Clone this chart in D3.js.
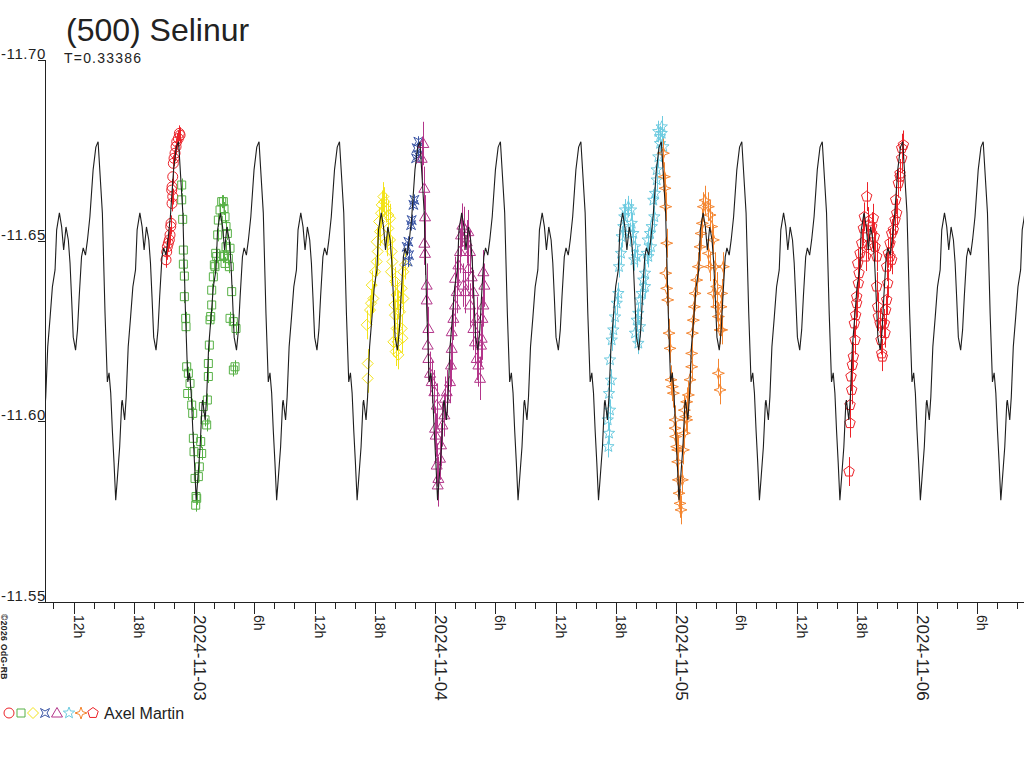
<!DOCTYPE html>
<html><head><meta charset="utf-8">
<script src="https://cdn.jsdelivr.net/npm/d3@7"></script>
<style>
html,body{margin:0;padding:0;background:#fff;overflow:hidden}
text{font-family:"Liberation Sans",Arial,Helvetica,sans-serif;fill:#222}
</style></head><body>
<svg id="chart" width="1024" height="768"></svg>
<script>
// ---------- text ----------
const titleText = "(500) Selinur";
const periodText = "T=0.33386";
const observerName = "Axel Martin";
const copyrightText = "\u00a92026 OdG-RB";

// ---------- axes data ----------
const baseDateUTC = Date.UTC(2024, 10, 3, 0, 0, 0); // 2024-11-03 00:00 UT
const xDomainHours = [-14.84, 82.65];               // hours relative to base date
const yDomain = [-11.70, -11.55];
const yTickValues = [-11.70, -11.65, -11.60, -11.55];

// ---------- model light curve (one period, phase 0 = maximum) ----------
const periodDays = 0.33386;
const modelEpochHours = 6.473;
const modelPhase = [0, .053, .086, .115, .136, .157, .177, .198, .219, .238, .268, .293, .300, .330, .349, .374, .404, .432, .465, .485, .519, .547, .572, .601, .630, .651, .670, .691, .720, .744, .765, .794, .815, .843, .868, .898, .938, .972];
const modelMag = [-11.6774, -11.6577, -11.6300, -11.6109, -11.6134, -11.6078, -11.5976, -11.5885, -11.5782, -11.5838, -11.5929, -11.6051, -11.6059, -11.6004, -11.6067, -11.6206, -11.6289, -11.6372, -11.6419, -11.6530, -11.6577, -11.6538, -11.6474, -11.6538, -11.6502, -11.6438, -11.6344, -11.6233, -11.6197, -11.6253, -11.6344, -11.6455, -11.6480, -11.6460, -11.6502, -11.6566, -11.6696, -11.6759];

// ---------- observations (hours from base date, magnitude) ----------
const circleHours = [-1.46,-1.56,-1.72,-1.39,-1.79,-1.89,-1.99,-2.06,-2.12,-2.19,-2.22,-2.12,-2.19,-2.29,-2.32,-2.39,-2.46,-2.56,-2.66,-2.72,-2.79];
const circleMags = [-11.6797,-11.6783,-11.6774,-11.6792,-11.6760,-11.6742,-11.6728,-11.6714,-11.6677,-11.6649,-11.6640,-11.6622,-11.6603,-11.6548,-11.6539,-11.6516,-11.6502,-11.6493,-11.6483,-11.6469,-11.6447];

const squareHours = [-1.228,-1.228,-1.128,-1.062,-1.062,-0.962,-0.962,-0.830,-0.797,-0.730,-0.564,-0.398,-0.631,-0.232,-0.133,-0.066,0.000,0.100,0.199,0.166,0.266,0.664,0.763,0.531,0.432,0.930,1.095,1.261,1.328,1.427,1.427,1.527,1.593,1.660,1.759,1.759,1.925,2.025,2.158,2.357,2.423,2.589,2.755,2.921,2.988,3.087,3.187,3.320,3.187,2.988,2.921,3.087,3.419,3.585,3.519,3.751,3.585,3.917,4.183,4.083,3.917,2.257,2.091];
const squareMags = [-11.6654,-11.6613,-11.6559,-11.6474,-11.6435,-11.6402,-11.6345,-11.6285,-11.6262,-11.6151,-11.6133,-11.6105,-11.6077,-11.6045,-11.6022,-11.5953,-11.5916,-11.5842,-11.5792,-11.5768,-11.5787,-11.5944,-11.5911,-11.5874,-11.5847,-11.6041,-11.6004,-11.5990,-11.6059,-11.6124,-11.6160,-11.6211,-11.6281,-11.6290,-11.6322,-11.6363,-11.6400,-11.6433,-11.6465,-11.6516,-11.6557,-11.6585,-11.6608,-11.6608,-11.6589,-11.6566,-11.6539,-11.6520,-11.6483,-11.6460,-11.6456,-11.6437,-11.6451,-11.6479,-11.6428,-11.6359,-11.6285,-11.6276,-11.6257,-11.6151,-11.6142,-11.6456,-11.6428];

const diamondHours = [17.294,17.294,17.195,17.527,17.626,17.859,17.693,18.025,18.191,18.290,18.191,18.523,18.423,18.622,18.689,18.855,18.954,19.087,19.353,19.519,19.353,19.519,19.187,19.685,19.751,19.618,20.016,20.182,20.348,19.950,20.016,20.182,20.282,20.348,20.083,19.851,20.680,20.747,20.514,20.846,20.680,20.846,21.012];
const diamondMags = [-11.6119,-11.6160,-11.6267,-11.6308,-11.6327,-11.6340,-11.6377,-11.6414,-11.6442,-11.6470,-11.6497,-11.6525,-11.6553,-11.6576,-11.6599,-11.6622,-11.6608,-11.6590,-11.6571,-11.6562,-11.6534,-11.6502,-11.6497,-11.6470,-11.6442,-11.6414,-11.6387,-11.6350,-11.6322,-11.6322,-11.6294,-11.6257,-11.6220,-11.6184,-11.6193,-11.6220,-11.6257,-11.6230,-11.6303,-11.6340,-11.6368,-11.6414,-11.6433];

const bowtieHours = [22.340,22.174,22.340,22.108,21.942,21.842,21.676,21.610,21.344,21.178,21.411,21.278];
const bowtieMags = [-11.6774,-11.6756,-11.6737,-11.6728,-11.6613,-11.6599,-11.6557,-11.6543,-11.6497,-11.6483,-11.6460,-11.6442];

const triangleHours = [22.838,22.672,22.938,23.004,22.938,23.004,23.170,23.170,23.336,23.270,23.336,23.502,23.668,23.933,24.166,24.000,24.066,24.166,24.332,24.266,24.498,24.597,24.730,24.929,24.996,25.162,25.494,25.593,25.660,25.660,25.826,25.992,26.157,25.992,26.323,26.489,26.589,26.722,26.921,27.153,27.319,27.485,27.319,27.651,27.817,27.485,27.817,27.983,28.149,28.315,28.481,28.581,28.647,28.714,28.813,28.913,28.813,28.149,26.821,26.987];
const triangleMags = [-11.6769,-11.6728,-11.6645,-11.6566,-11.6493,-11.6465,-11.6377,-11.6336,-11.6257,-11.6211,-11.6174,-11.6133,-11.6110,-11.6082,-11.6045,-11.5981,-11.5962,-11.5879,-11.5842,-11.5824,-11.5898,-11.5935,-11.5990,-11.6018,-11.6064,-11.6082,-11.6110,-11.6156,-11.6202,-11.6248,-11.6285,-11.6322,-11.6359,-11.6396,-11.6433,-11.6470,-11.6516,-11.6543,-11.6534,-11.6497,-11.6525,-11.6470,-11.6423,-11.6400,-11.6359,-11.6322,-11.6257,-11.6220,-11.6174,-11.6156,-11.6119,-11.6211,-11.6230,-11.6285,-11.6322,-11.6377,-11.6414,-11.6285,-11.6377,-11.6359];

const starHours = [41.260,41.326,41.193,41.426,41.326,41.525,41.426,41.592,41.758,41.924,42.090,42.256,42.322,42.521,42.588,42.754,42.853,42.920,43.252,43.517,43.584,43.417,43.749,43.915,43.849,44.081,44.911,44.745,44.911,44.579,44.413,44.247,44.081,43.915,44.247,44.413,45.077,45.177,45.409,45.575,45.841,45.741,45.907,46.073,46.073,46.239,46.405,46.405,46.571,46.571,46.239,46.737,45.243,45.509];
const starMags = [-11.5930,-11.5967,-11.6004,-11.6031,-11.6077,-11.6114,-11.6170,-11.6225,-11.6253,-11.6289,-11.6327,-11.6354,-11.6428,-11.6465,-11.6511,-11.6539,-11.6566,-11.6585,-11.6594,-11.6585,-11.6548,-11.6520,-11.6520,-11.6483,-11.6447,-11.6456,-11.6410,-11.6391,-11.6373,-11.6354,-11.6336,-11.6299,-11.6280,-11.6244,-11.6216,-11.6262,-11.6465,-11.6502,-11.6520,-11.6539,-11.6566,-11.6612,-11.6631,-11.6668,-11.6696,-11.6732,-11.6769,-11.6788,-11.6815,-11.6797,-11.6802,-11.6760,-11.6456,-11.6483];

const sparkleHours = [46.737,46.837,46.903,46.969,47.069,46.969,47.069,47.169,47.301,47.401,47.500,47.633,47.733,47.899,47.965,48.065,48.164,48.231,48.297,48.397,48.496,48.629,48.729,48.828,48.961,49.061,49.227,49.393,49.559,49.559,49.625,49.725,49.824,49.891,50.057,50.223,50.389,50.489,50.621,50.721,50.887,51.219,51.385,51.550,51.716,51.219,51.385,51.882,51.716,52.048,52.048,52.214,52.380,52.546,52.712,52.546,52.479,52.214,52.380,47.899,48.164,48.828,49.061];
const sparkleMags = [-11.6742,-11.6677,-11.6645,-11.6594,-11.6493,-11.6410,-11.6368,-11.6336,-11.6244,-11.6202,-11.6115,-11.6096,-11.6078,-11.5981,-11.5958,-11.5930,-11.5888,-11.5838,-11.5801,-11.5773,-11.5755,-11.5838,-11.5921,-11.5967,-11.6013,-11.6054,-11.6073,-11.6115,-11.6151,-11.6188,-11.6244,-11.6280,-11.6317,-11.6354,-11.6391,-11.6428,-11.6483,-11.6520,-11.6548,-11.6594,-11.6612,-11.6594,-11.6571,-11.6539,-11.6502,-11.6465,-11.6428,-11.6428,-11.6354,-11.6373,-11.6317,-11.6290,-11.6253,-11.6253,-11.6428,-11.6354,-11.6317,-11.6133,-11.6087,-11.6004,-11.5921,-11.6031,-11.6004];

const pentagonHours = [65.226,65.326,65.326,65.492,65.425,65.558,65.658,65.824,65.757,65.890,65.990,65.990,66.156,66.222,66.089,66.322,66.488,66.654,66.753,66.986,67.152,67.483,67.649,67.483,67.749,67.815,67.981,67.981,68.081,68.148,68.314,68.413,68.479,68.546,68.811,68.745,68.878,68.977,69.077,68.977,69.143,69.309,69.475,69.641,69.807,69.973,69.873,70.139,70.305,70.305,70.471,70.471,70.637,69.309,69.475,67.152,66.887];
const pentagonMags = [-11.5861,-11.5995,-11.6045,-11.6087,-11.6124,-11.6156,-11.6179,-11.6225,-11.6271,-11.6294,-11.6327,-11.6345,-11.6382,-11.6410,-11.6437,-11.6465,-11.6493,-11.6534,-11.6566,-11.6622,-11.6553,-11.6539,-11.6562,-11.6520,-11.6511,-11.6483,-11.6456,-11.6373,-11.6317,-11.6290,-11.6271,-11.6225,-11.6188,-11.6179,-11.6244,-11.6271,-11.6308,-11.6336,-11.6382,-11.6428,-11.6465,-11.6493,-11.6520,-11.6530,-11.6557,-11.6576,-11.6613,-11.6659,-11.6677,-11.6686,-11.6728,-11.6756,-11.6765,-11.6456,-11.6447,-11.6488,-11.6456];

// session order, symbols, colors, typical error (mag)
const sessionSymbols = ["circle","square","diamond","bowtie","triangle","star","sparkle","pentagon"];
const sessionColors = ["#ec2229","#57b146","#f3e31a","#3a55a5","#b3358a","#6dcbe0","#f4852f","#ec2229"];
const sessionErrors = [0.0022,0.0018,0.0040,0.0015,0.0060,0.0030,0.0040,0.0040];
const sessionHours = [circleHours, squareHours, diamondHours, bowtieHours, triangleHours, starHours, sparkleHours, pentagonHours];
const sessionMags = [circleMags, squareMags, diamondMags, bowtieMags, triangleMags, starMags, sparkleMags, pentagonMags];

// ---------- drawing ----------
const svg = d3.select("#chart");
const L = 45, R = 1024, T = 60, B = 602;
const toDate = h => new Date(baseDateUTC + h * 3600e3);
const x = d3.scaleUtc().domain(xDomainHours.map(toDate)).range([L, R]);
const y = d3.scaleLinear().domain(yDomain).range([T, B]);

svg.append("defs").append("clipPath").attr("id","plotclip")
  .append("rect").attr("x", L).attr("y", 0).attr("width", R - L).attr("height", B);

function starPath(n, ro, ri) {
  let p = [];
  for (let i = 0; i < 2 * n; i++) {
    const a = -Math.PI / 2 + i * Math.PI / n;
    const r = i % 2 ? ri : ro;
    p.push([r * Math.cos(a), r * Math.sin(a)]);
  }
  return "M" + p.map(q => q[0].toFixed(2) + "," + q[1].toFixed(2)).join("L") + "Z";
}
function polyPath(n, r) {
  let p = [];
  for (let i = 0; i < n; i++) {
    const a = -Math.PI / 2 + i * 2 * Math.PI / n;
    p.push([r * Math.cos(a), r * Math.sin(a)]);
  }
  return "M" + p.map(q => q[0].toFixed(2) + "," + q[1].toFixed(2)).join("L") + "Z";
}
const symbolPaths = {
  circle: "M5,0A5,5 0 1,1 -5,0A5,5 0 1,1 5,0Z",
  square: "M-4,-4L4,-4L4,4L-4,4Z",
  diamond: "M0,-5.5L5.5,0L0,5.5L-5.5,0Z",
  bowtie: "M-4.5,-4.5L0,-2L4.5,-4.5L2,0L4.5,4.5L0,2L-4.5,4.5L-2,0Z",
  triangle: "M0,-5.5L5.5,4L-5.5,4Z",
  star: starPath(5, 6, 2.5),
  sparkle: "M0,-6L1.5,-1.5L6,0L1.5,1.5L0,6L-1.5,1.5L-6,0L-1.5,-1.5Z",
  pentagon: polyPath(5, 5.5)
};

// data
const dataG = svg.append("g").attr("clip-path", "url(#plotclip)");
sessionSymbols.forEach((sym, s) => {
  const hrs = sessionHours[s], mags = sessionMags[s];
  const n = Math.min(hrs.length, mags.length);
  const pts = d3.range(n).map(i => ({t: hrs[i], m: mags[i]}));
  const g = dataG.append("g").attr("stroke", sessionColors[s]).attr("fill", "none").attr("stroke-width", 1);
  g.selectAll("line").data(pts).join("line")
    .attr("x1", d => Math.round(x(toDate(d.t))) + 0.5).attr("x2", d => Math.round(x(toDate(d.t))) + 0.5)
    .attr("y1", d => y(d.m - sessionErrors[s])).attr("y2", d => y(d.m + sessionErrors[s]));
  g.selectAll("path").data(pts).join("path")
    .attr("d", symbolPaths[sym])
    .attr("transform", d => `translate(${x(toDate(d.t))},${y(d.m)})`);
});

// model curve
const P = periodDays * 24;
const modelPts = [];
const kStart = Math.floor((xDomainHours[0] - modelEpochHours) / P) - 1;
const kEnd = Math.ceil((xDomainHours[1] - modelEpochHours) / P) + 1;
for (let k = kStart; k <= kEnd; k++) {
  modelPhase.forEach((ph, i) => modelPts.push({t: modelEpochHours + (k + ph) * P, m: modelMag[i]}));
}
dataG.append("path").datum(modelPts)
  .attr("fill", "none").attr("stroke", "#1e1e1e").attr("stroke-width", 1.1)
  .attr("d", d3.line().x(d => x(toDate(d.t))).y(d => y(d.m)));

// y axis
const yG = svg.append("g").attr("shape-rendering", "crispEdges");
yG.append("line").attr("x1", L + 0.5).attr("x2", L + 0.5).attr("y1", T).attr("y2", B + 0.5).attr("stroke", "#222");
yTickValues.forEach(v => {
  yG.append("line").attr("x1", L - 7).attr("x2", L).attr("y1", Math.round(y(v)) + 0.5).attr("y2", Math.round(y(v)) + 0.5).attr("stroke", "#222");
  svg.append("text").attr("x", L + 1).attr("y", y(v) - 1).attr("text-anchor", "end")
    .style("font-size", "15px").style("letter-spacing", "0.6px").text(v.toFixed(2));
});

// x axis
const xG = svg.append("g").attr("shape-rendering", "crispEdges");
xG.append("line").attr("x1", L).attr("x2", R).attr("y1", B + 0.5).attr("y2", B + 0.5).attr("stroke", "#222");
const xTicks = d3.utcHour.every(2).range(toDate(xDomainHours[0]), toDate(xDomainHours[1]));
const fmtDate = d3.utcFormat("%Y-%m-%d");
xTicks.forEach(d => {
  const hr = d.getUTCHours();
  const major = hr % 6 === 0;
  const px = Math.round(x(d)) + 0.5;
  xG.append("line").attr("x1", px).attr("x2", px).attr("y1", B).attr("y2", B + (major ? 12 : 7)).attr("stroke", "#222");
  if (major) {
    const label = hr === 0 ? fmtDate(d) : hr + "h";
    svg.append("text").attr("transform", `translate(${px - 0.5},${B + 13}) rotate(90)`)
      .style("font-size", hr === 0 ? "17px" : "14px").text(label);
  }
});

// titles
svg.append("text").attr("x", 66).attr("y", 41).style("font-size", "32px").text(titleText);
svg.append("text").attr("x", 64).attr("y", 63).style("font-size", "14px").style("letter-spacing", "1.2px").text(periodText);

// copyright
svg.append("text").attr("transform", "translate(1,614) rotate(90)")
  .style("font-size", "8.5px").style("font-weight", "bold").style("letter-spacing", "0.4px").text(copyrightText);

// legend
const legG = svg.append("g");
sessionSymbols.forEach((sym, s) => {
  legG.append("path").attr("d", symbolPaths[sym]).attr("fill", "none")
    .attr("stroke", sessionColors[s]).attr("stroke-width", 1)
    .attr("transform", `translate(${9 + s * 12},713)`);
});
svg.append("text").attr("x", 104).attr("y", 719).style("font-size", "16px").text(observerName);
</script>
</body></html>
